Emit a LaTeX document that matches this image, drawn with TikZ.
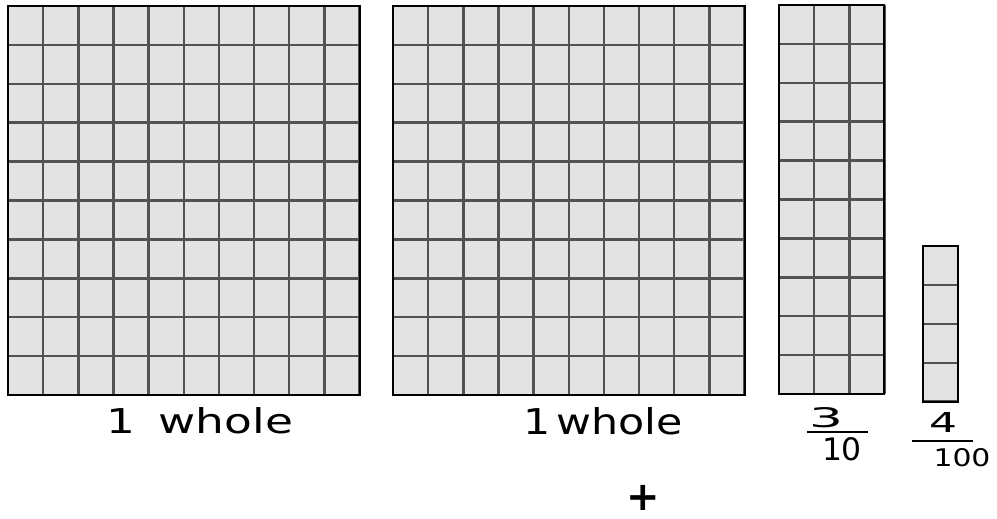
\documentclass[tikz,border=0pt]{standalone}
\usepackage{fontspec}
\usepackage{graphicx}
\usepackage{tikz}
\usetikzlibrary{positioning}
\newfontfamily\handfont{DejaVu Sans}

% one block of squares: x, y, columns, rows
\newcommand{\gridblock}[4]{%
  \begin{scope}[shift={(#1,#2)}]
    \fill[cellfill] (0,0) rectangle (#3*35.15,#4*38.9);
    \foreach \c in {0,...,#3} \draw[gridline] (\c*35.15,0) -- (\c*35.15,#4*38.9);
    \foreach \r in {0,...,#4} \draw[gridline] (0,\r*38.9) -- (#3*35.15,\r*38.9);
    \draw[border] (0,0) rectangle (#3*35.15,#4*38.9);
  \end{scope}}

\begin{document}
\begin{tikzpicture}[
    x=1pt, y=-1pt,
    cellfill/.style={fill=black!11},
    gridline/.style={draw=black!68, line width=2.4pt},
    border/.style={draw=black, line width=2pt},
    hand/.style={font=\handfont\fontsize{30}{34}\selectfont, inner sep=0pt},
    bar/.style={draw=black, line width=2.4pt}
]
    \useasboundingbox (0,0) rectangle (997,519);

    % Blocks
    \gridblock{8}{6}{10}{10}
    \gridblock{393}{6}{10}{10}
    \gridblock{779}{5}{3}{10}
    \gridblock{923}{246}{1}{4}

    % Labels
    \node[hand] (wholeA) at (200,421) {\resizebox{186pt}{26pt}{1\hspace{0.5em}whole}};
    \node[hand] (wholeB) at (603,421) {\resizebox{160pt}{27pt}{1\hspace{0.15em}whole}};

    % Fractions
    \node[hand] (numA) at (826,418) {\resizebox{34pt}{20pt}{3}};
    \node[hand] (denA) at (842,449) {\resizebox{40pt}{23pt}{10}};
    \coordinate (barAl) at (807,432);
    \coordinate (barAr) at (868,432);
    \draw[bar] (barAl) -- (barAr);
    \node[hand] (numB) at (943,422) {\resizebox{28pt}{20pt}{4}};
    \node[hand] (denB) at (962,458) {\resizebox{57pt}{18pt}{100}};
    \coordinate (barBl) at (912,441);
    \coordinate (barBr) at (973,441);
    \draw[bar] (barBl) -- (barBr);

    \node[font=\handfont\fontsize{40}{44}\selectfont\bfseries, inner sep=0pt] (plus) at (643,498) {+};
\end{tikzpicture}
\end{document}
